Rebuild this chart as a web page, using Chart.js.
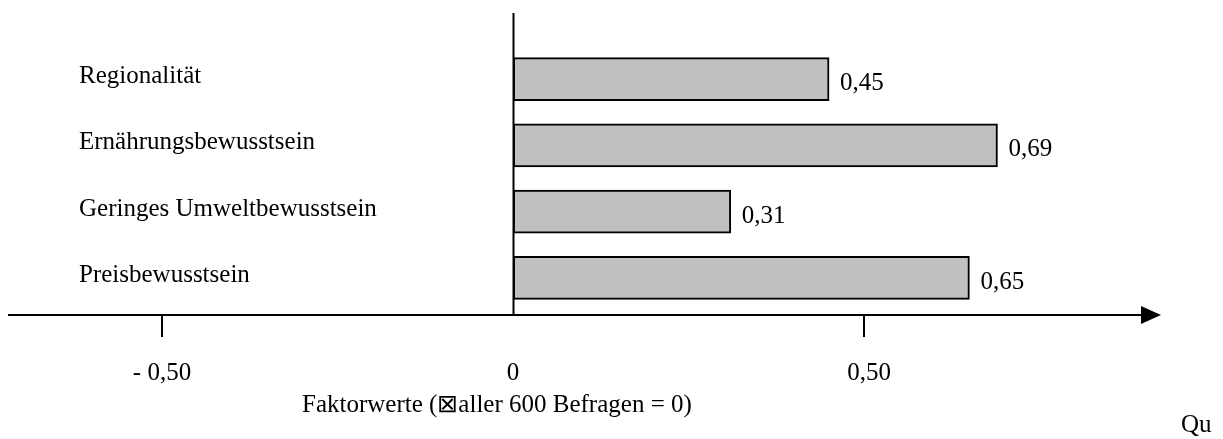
<!DOCTYPE html>
<html lang="de">
<head>
  <meta charset="UTF-8">
  <title>Faktorwerte</title>
  <script src="https://cdn.jsdelivr.net/npm/chart.js"></script>
  <style>
    body { margin: 0; background: #fff; }
  </style>
</head>
<body>
  <canvas id="faktorChart" width="1223" height="439"></canvas>

  <script>
    // data
    const categories = ['Regionalität', 'Ernährungsbewusstsein', 'Geringes Umweltbewusstsein', 'Preisbewusstsein'];
    const factorValues = [0.45, 0.69, 0.31, 0.65];
    const tickValues = [-0.5, 0, 0.5];
    const tickLabels = ['- 0,50', '0', '0,50'];
    const axisTitle = 'Faktorwerte (\u22A0aller 600 Befragen = 0)';
    const sourceNote = 'Qu';

    const serif = '"Liberation Serif", "Times New Roman", serif';

    function formatValue(v) {
      return v.toFixed(2).replace('.', ',');
    }

    // axes, labels and notes are drawn by hand, like the original figure
    const figurePlugin = {
      id: 'figure',
      afterDatasetsDraw(chart) {
        const ctx = chart.ctx;
        const area = chart.chartArea;
        const xs = chart.scales.x;
        const ys = chart.scales.y;
        const axisY = Math.round(area.bottom + 4);
        const zeroX = Math.round(xs.getPixelForValue(0)) + 0.5;

        ctx.save();
        ctx.strokeStyle = '#000';
        ctx.fillStyle = '#000';
        ctx.lineWidth = 2;

        // horizontal axis with arrow
        ctx.beginPath();
        ctx.moveTo(8, axisY);
        ctx.lineTo(area.right - 18, axisY);
        ctx.stroke();
        ctx.beginPath();
        ctx.moveTo(area.right, axisY);
        ctx.lineTo(area.right - 20, axisY - 9);
        ctx.lineTo(area.right - 20, axisY + 9);
        ctx.closePath();
        ctx.fill();

        // vertical axis at zero
        ctx.beginPath();
        ctx.moveTo(zeroX, area.top - 33);
        ctx.lineTo(zeroX, axisY);
        ctx.stroke();

        // ticks and tick labels
        ctx.font = '25px ' + serif;
        ctx.textAlign = 'center';
        ctx.textBaseline = 'alphabetic';
        tickValues.forEach((v, i) => {
          const px = Math.round(xs.getPixelForValue(v));
          if (v !== 0) {
            ctx.beginPath();
            ctx.moveTo(px, axisY);
            ctx.lineTo(px, axisY + 22);
            ctx.stroke();
          }
          ctx.fillText(tickLabels[i], px + (v > 0 ? 5 : 0), axisY + 65);
        });

        // category names on the left
        ctx.textAlign = 'left';
        categories.forEach((name, i) => {
          const py = ys.getPixelForValue(i);
          ctx.fillText(name, 79, py + 4);
        });

        // value labels next to the bars
        const meta = chart.getDatasetMeta(0);
        meta.data.forEach((bar, i) => {
          ctx.fillText(formatValue(factorValues[i]), bar.x + 11, bar.y + 11);
        });

        // axis title and cut-off source note
        ctx.fillText(axisTitle, 302, axisY + 97);
        ctx.fillText(sourceNote, 1181, 432);

        ctx.restore();
      }
    };

    new Chart(document.getElementById('faktorChart'), {
      type: 'bar',
      data: {
        labels: categories,
        datasets: [{
          data: factorValues,
          backgroundColor: '#c0c0c0',
          borderColor: '#000',
          borderWidth: 2,
          borderSkipped: false,
          barThickness: 43
        }]
      },
      options: {
        indexAxis: 'y',
        responsive: false,
        animation: false,
        layout: {
          padding: { left: 8, right: 62, top: 46, bottom: 128 }
        },
        scales: {
          x: {
            display: false,
            min: -0.72,
            max: 0.923
          },
          y: {
            display: false
          }
        },
        plugins: {
          legend: { display: false },
          tooltip: { enabled: false }
        }
      },
      plugins: [figurePlugin]
    });
  </script>
</body>
</html>
